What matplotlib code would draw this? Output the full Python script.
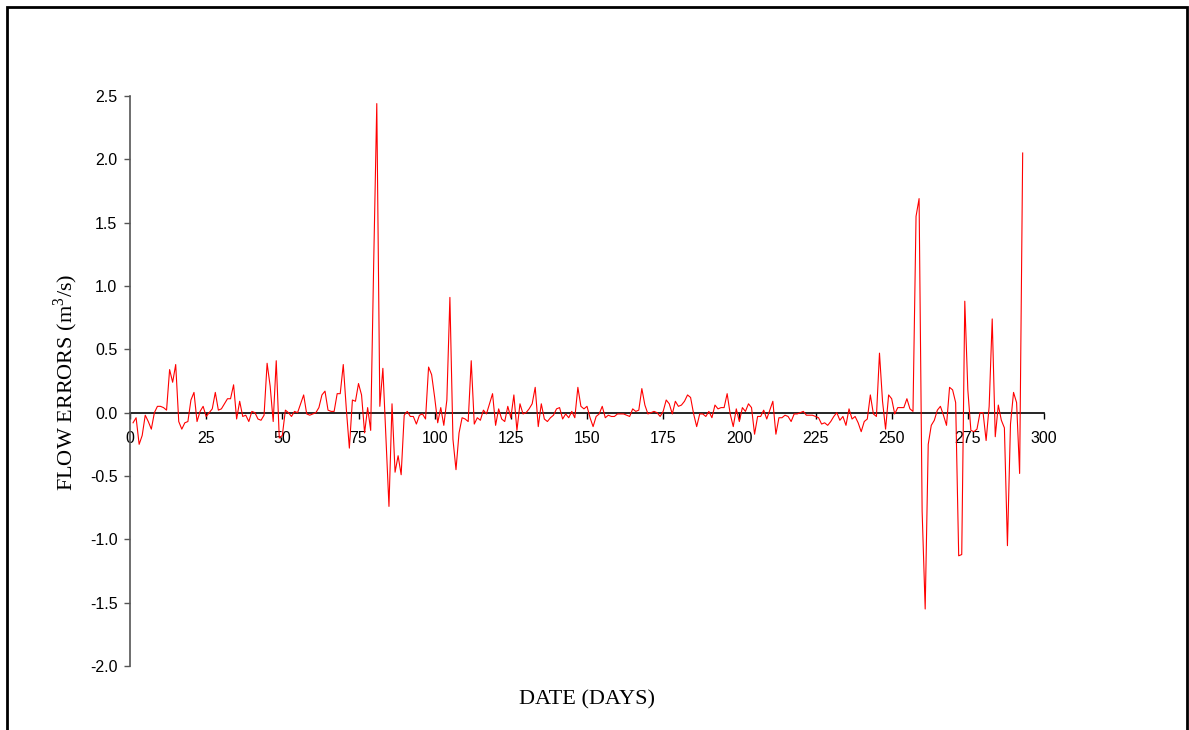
import matplotlib
matplotlib.use("Agg")
import matplotlib.pyplot as plt
from matplotlib.patches import Rectangle

plt.rcParams['axes.unicode_minus'] = False
plt.rcParams['mathtext.fontset'] = 'custom'
plt.rcParams['mathtext.rm'] = 'Liberation Serif'

# Flow errors (m3/s) for days 1..293
flow_errors = [
    -0.08, -0.04, -0.25, -0.18, -0.02, -0.07, -0.13, 0.00, 0.05, 0.05,   # 1-10
    0.04, 0.02, 0.34, 0.24, 0.38, -0.07, -0.13, -0.08, -0.07, 0.10,      # 11-20
    0.16, -0.07, 0.01, 0.05, -0.03, 0.00, 0.03, 0.16, 0.02, 0.03,        # 21-30
    0.07, 0.11, 0.11, 0.22, -0.05, 0.09, -0.03, -0.02, -0.07, 0.01,      # 31-40
    0.00, -0.05, -0.06, -0.02, 0.39, 0.21, -0.07, 0.41, -0.20, -0.18,    # 41-50
    0.02, 0.00, -0.03, 0.01, 0.00, 0.07, 0.14, -0.01, -0.02, -0.01,      # 51-60
    0.00, 0.04, 0.14, 0.17, 0.02, 0.01, 0.01, 0.15, 0.15, 0.38,          # 61-70
    0.03, -0.28, 0.10, 0.09, 0.23, 0.14, -0.16, 0.04, -0.14, 1.20,       # 71-80
    2.44, 0.05, 0.35, -0.20, -0.74, 0.07, -0.47, -0.34, -0.49, -0.02,    # 81-90
    0.01, -0.03, -0.03, -0.09, -0.02, -0.01, -0.05, 0.36, 0.30, 0.12,    # 91-100
    -0.08, 0.04, -0.10, 0.10, 0.91, -0.21, -0.45, -0.16, -0.04, -0.05,   # 101-110
    -0.07, 0.41, -0.09, -0.04, -0.06, 0.02, -0.01, 0.07, 0.15, -0.10,    # 111-120
    0.03, -0.05, -0.07, 0.05, -0.04, 0.14, -0.14, 0.07, -0.01, 0.00,     # 121-130
    0.03, 0.07, 0.20, -0.11, 0.07, -0.05, -0.07, -0.04, -0.02, 0.03,     # 131-140
    0.04, -0.05, -0.01, -0.04, 0.01, -0.04, 0.20, 0.05, 0.03, 0.05,      # 141-150
    -0.04, -0.11, -0.03, -0.01, 0.05, -0.04, -0.02, -0.03, -0.03, -0.01, # 151-160
    -0.01, -0.01, -0.02, -0.03, 0.03, 0.01, 0.02, 0.19, 0.06, -0.01,     # 161-170
    0.00, 0.01, 0.00, -0.03, 0.01, 0.10, 0.07, -0.01, 0.09, 0.05,        # 171-180
    0.06, 0.09, 0.14, 0.12, -0.01, -0.11, -0.01, -0.01, -0.03, 0.01,     # 181-190
    -0.04, 0.06, 0.03, 0.04, 0.04, 0.15, -0.01, -0.11, 0.03, -0.07,      # 191-200
    0.04, 0.01, 0.07, 0.04, -0.17, -0.03, -0.03, 0.02, -0.05, 0.02,      # 201-210
    0.09, -0.17, -0.04, -0.04, -0.02, -0.03, -0.07, -0.01, -0.01, 0.00,  # 211-220
    0.01, -0.02, -0.02, -0.02, -0.03, -0.04, -0.09, -0.08, -0.10, -0.07, # 221-230
    -0.03, 0.00, -0.06, -0.03, -0.10, 0.03, -0.05, -0.03, -0.08, -0.15,  # 231-240
    -0.07, -0.05, 0.14, -0.01, -0.03, 0.47, 0.09, -0.13, 0.14, 0.11,     # 241-250
    -0.01, 0.04, 0.04, 0.04, 0.11, 0.03, 0.01, 1.55, 1.69, -0.78,        # 251-260
    -1.55, -0.25, -0.10, -0.06, 0.02, 0.05, -0.02, -0.10, 0.20, 0.18,    # 261-270
    0.08, -1.13, -1.12, 0.88, 0.18, -0.14, -0.15, -0.13, 0.00, 0.00,     # 271-280
    -0.22, 0.05, 0.74, -0.19, 0.06, -0.06, -0.12, -1.05, -0.09, 0.16,    # 281-290
    0.08, -0.48, 2.05,                                                   # 291-293
]
days = list(range(1, len(flow_errors) + 1))

x_ticks = [0, 25, 50, 75, 100, 125, 150, 175, 200, 225, 250, 275, 300]
y_ticks = [-2.0, -1.5, -1.0, -0.5, 0.0, 0.5, 1.0, 1.5, 2.0, 2.5]

W, H = 1189, 730
fig = plt.figure(figsize=(W / 100, H / 100), dpi=100)
fig.patch.set_facecolor('white')

x0, x1 = 130, 1044
ytop, ybot = 96, 666
ax = fig.add_axes([x0 / W, 1 - ybot / H, (x1 - x0) / W, (ybot - ytop) / H])
ax.set_facecolor('none')

ax.plot(days, flow_errors, color='#ff0000', linewidth=0.8, zorder=3)

ax.set_xlim(0, 300)
ax.set_ylim(-2.0, 2.5)

for s in ['top', 'right']:
    ax.spines[s].set_visible(False)
ax.spines['bottom'].set_position(('data', 0))
ax.spines['bottom'].set_color('black')
ax.spines['bottom'].set_linewidth(1.2)
ax.spines['bottom'].set_zorder(2)
ax.spines['left'].set_color('#555555')
ax.spines['left'].set_linewidth(1.2)

ax.set_xticks(x_ticks)
ax.set_xticklabels([str(t) for t in x_ticks])
ax.set_yticks(y_ticks)
ax.set_yticklabels(['%.1f' % v for v in y_ticks])

for lab in ax.get_xticklabels() + ax.get_yticklabels():
    lab.set_fontfamily(['Liberation Sans', 'DejaVu Sans'])
    lab.set_fontsize(11.5)
    lab.set_color('black')

ax.tick_params(axis='x', direction='out', length=4, width=1, color='black', pad=9)
ax.tick_params(axis='y', direction='out', length=4, width=1, color='#555555', pad=5)

serif = ['Liberation Serif', 'DejaVu Serif']
fig.text(587 / W, 1 - 700 / H, 'DATE (DAYS)', ha='center', va='center',
         fontsize=16, family=serif)
fig.text(66 / W, 1 - 382 / H, 'FLOW ERRORS (m$^{3}$/s)', ha='center', va='center',
         rotation=90, fontsize=16, family=serif)

# outer frame (left, top, right edges)
fig.add_artist(Rectangle((7 / W, -0.05), (1187 - 7) / W, (1 - 7 / H) + 0.05,
                         transform=fig.transFigure, fill=False,
                         edgecolor='black', linewidth=2.0))

fig.savefig('out.png', dpi=100, facecolor='white')
